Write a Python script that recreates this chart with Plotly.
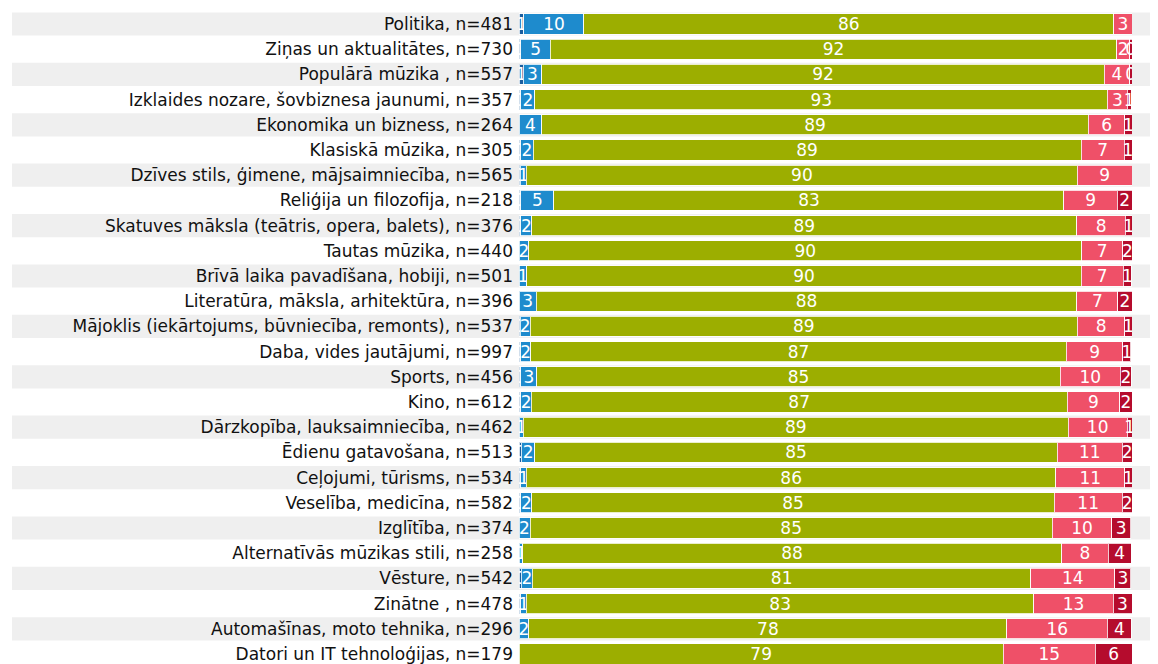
import plotly.graph_objects as go

categories = [
    "Politika, n=481",
    "Ziņas un aktualitātes, n=730",
    "Populārā mūzika , n=557",
    "Izklaides nozare, šovbiznesa jaunumi, n=357",
    "Ekonomika un bizness, n=264",
    "Klasiskā mūzika, n=305",
    "Dzīves stils, ģimene, mājsaimniecība, n=565",
    "Reliģija un filozofija, n=218",
    "Skatuves māksla (teātris, opera, balets), n=376",
    "Tautas mūzika, n=440",
    "Brīvā laika pavadīšana, hobiji, n=501",
    "Literatūra, māksla, arhitektūra, n=396",
    "Mājoklis (iekārtojums, būvniecība, remonts), n=537",
    "Daba, vides jautājumi, n=997",
    "Sports, n=456",
    "Kino, n=612",
    "Dārzkopība, lauksaimniecība, n=462",
    "Ēdienu gatavošana, n=513",
    "Ceļojumi, tūrisms, n=534",
    "Veselība, medicīna, n=582",
    "Izglītība, n=374",
    "Alternatīvās mūzikas stili, n=258",
    "Vēsture, n=542",
    "Zinātne , n=478",
    "Automašīnas, moto tehnika, n=296",
    "Datori un IT tehnoloģijas, n=179",
]

dark_blue = [0.8, 0.3, 0.7, 0.3, 0.0, 0.3, 0.2, 0.3, 0.3, 0.0, 0.0, 0.0, 0.2,
             0.3, 0.3, 0.3, 0.0, 0.4, 0.3, 0.3, 0.0, 0.0, 0.4, 0.3, 0.0, 0.0]
blue = [9.8, 4.8, 3.0, 2.3, 3.7, 2.0, 1.0, 5.4, 1.8, 1.6, 1.3, 2.8, 1.6,
        1.6, 2.6, 1.7, 0.7, 2.2, 0.9, 1.8, 1.8, 0.6, 1.8, 0.9, 1.6, 0.0]
green = [86.4, 92.4, 91.8, 93.4, 89.2, 89.4, 89.9, 83.2, 88.9, 90.2, 90.4, 88.2, 89.3,
         87.4, 85.4, 87.4, 88.9, 85.2, 86.4, 85.2, 85.2, 87.9, 81.3, 82.8, 78.0, 79.0]
pink = [3.0, 2.1, 4.1, 3.2, 5.9, 7.0, 8.9, 8.7, 7.9, 6.7, 6.9, 6.7, 7.7,
        9.2, 9.8, 8.6, 9.6, 10.6, 11.2, 11.1, 9.7, 7.6, 13.7, 12.9, 16.4, 15.0]
dark_red = [0.0, 0.4, 0.4, 0.7, 1.2, 1.3, 0.0, 2.4, 1.1, 1.5, 1.3, 2.3, 1.2,
            1.3, 1.8, 2.0, 0.8, 1.6, 1.2, 1.6, 3.1, 3.8, 2.6, 3.1, 3.9, 6.0]

series = [
    ("Dark blue", dark_blue, "#1B5E9E"),
    ("Blue", blue, "#1E8BCD"),
    ("Green", green, "#9CAE00"),
    ("Pink", pink, "#EF5068"),
    ("Dark red", dark_red, "#B50C2D"),
]

fig = go.Figure()
for name, vals, col in series:
    texts = ["" if v == 0 else str(int(v + 0.5)) for v in vals]
    fig.add_trace(go.Bar(
        y=categories, x=vals, orientation="h", name=name,
        marker=dict(color=col, line=dict(color="rgba(255,255,255,0.8)", width=1)),
        text=texts, textposition="inside", insidetextanchor="middle",
        textangle=0,
        textfont=dict(color="white", size=17, family="DejaVu Sans"),
        constraintext="none", cliponaxis=True,
        hoverinfo="skip",
    ))

# page body has an 8px default margin; the figure is sized to fit the window
W, H = 1150, 656
left, right = 511, 1124
plot_w = right - left
row_h = 25.2
first_center = 16

n = len(categories)
shapes = []
for i in range(0, n, 2):
    shapes.append(dict(
        type="rect", xref="paper", yref="y",
        x0=(4 - left) / plot_w, x1=(W - left) / plot_w,
        y0=i - 0.46, y1=i + 0.46,
        fillcolor="#EFEFEF", line=dict(width=0), layer="below",
    ))

fig.update_layout(
    width=W, height=H,
    margin=dict(l=left, r=W - right, t=0, b=0, autoexpand=False),
    barmode="stack", bargap=0.2,
    plot_bgcolor="rgba(0,0,0,0)", paper_bgcolor="white",
    showlegend=False,
    shapes=shapes,
    uniformtext=dict(minsize=17, mode="show"),
    font=dict(family="DejaVu Sans", color="black"),
)
fig.update_xaxes(range=[0, 100], visible=False, fixedrange=True)
fig.update_yaxes(
    type="category", categoryorder="array", categoryarray=categories,
    range=[(H - first_center) / row_h, -first_center / row_h],
    showgrid=False, zeroline=False, showline=False,
    ticks="", ticklabelstandoff=5,
    tickfont=dict(size=17, family="DejaVu Sans", color="#111111"),
)

fig.write_html("out.html")
